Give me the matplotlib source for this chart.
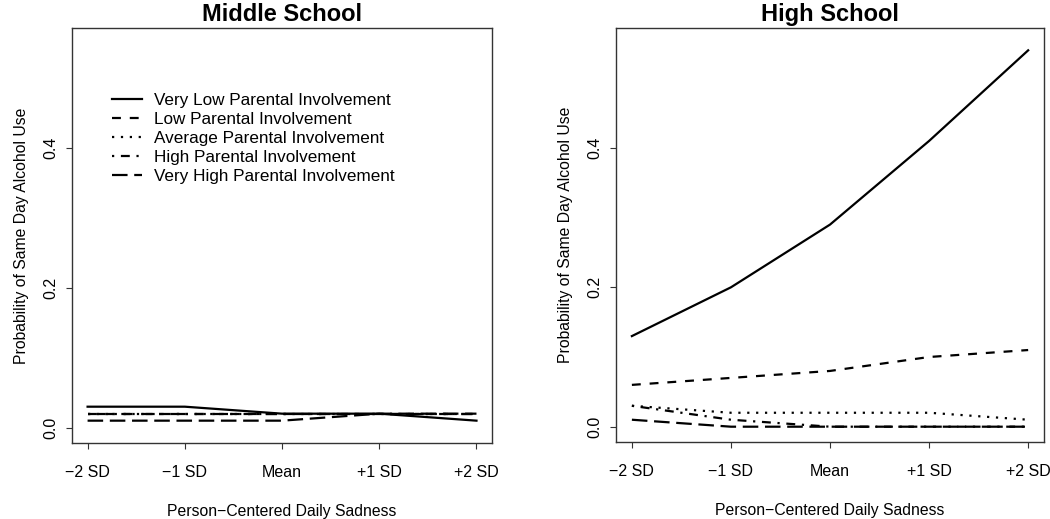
import numpy as np
import matplotlib
matplotlib.use("Agg")
import matplotlib.pyplot as plt

plt.rcParams['font.family'] = ['Liberation Sans', 'DejaVu Sans']

x_labels = ["\u22122 SD", "\u22121 SD", "Mean", "+1 SD", "+2 SD"]
groups = ["Very Low Parental Involvement", "Low Parental Involvement",
          "Average Parental Involvement", "High Parental Involvement",
          "Very High Parental Involvement"]

# Middle school predicted probabilities
ms_very_low = [0.03, 0.03, 0.02, 0.02, 0.01]
ms_low = [0.02, 0.02, 0.02, 0.02, 0.02]
ms_average = [0.02, 0.02, 0.02, 0.02, 0.02]
ms_high = [0.02, 0.02, 0.02, 0.02, 0.02]
ms_very_high = [0.01, 0.01, 0.01, 0.02, 0.02]

# High school predicted probabilities
hs_very_low = [0.13, 0.20, 0.29, 0.41, 0.54]
hs_low = [0.06, 0.07, 0.08, 0.10, 0.11]
hs_average = [0.03, 0.02, 0.02, 0.02, 0.01]
hs_high = [0.03, 0.01, 0.00, 0.00, 0.00]
hs_very_high = [0.01, 0.00, 0.00, 0.00, 0.00]

styles = ['-', (0, (4, 4)), (0, (1, 3)), (0, (1, 3, 4, 3)), (0, (7, 3))]

fig = plt.figure(figsize=(10.5, 5.19), dpi=100)
ax1 = fig.add_axes([0.0686, 0.1464, 0.4, 0.7996])
ax2 = fig.add_axes([0.5867, 0.1483, 0.4076, 0.7977])

x = np.arange(1, 6)
panels = [(ax1, "Middle School", [ms_very_low, ms_low, ms_average, ms_high, ms_very_high]),
          (ax2, "High School", [hs_very_low, hs_low, hs_average, hs_high, hs_very_high])]

for ax, title, series in panels:
    for vals, ls, name in zip(series, styles, groups):
        ax.plot(x, vals, color='black', lw=1.6, linestyle=ls, label=name)
    ax.set_xlim(1 - 0.16, 5 + 0.16)
    ax.set_ylim(-0.022, 0.572)
    ax.set_xticks(x)
    ax.set_xticklabels(x_labels, fontsize=11.5)
    ax.set_yticks([0.0, 0.2, 0.4])
    ax.set_yticklabels(["0.0", "0.2", "0.4"], fontsize=11.5, rotation=90, va='center')
    ax.tick_params(axis='both', length=4, width=0.8, color='#333333')
    ax.tick_params(axis='x', pad=12)
    ax.tick_params(axis='y', pad=6)
    for sp in ax.spines.values():
        sp.set_linewidth(1.0)
        sp.set_color('#333333')
    ax.set_title(title, fontsize=17, fontweight='bold', pad=5)
    ax.set_xlabel("Person\u2212Centered Daily Sadness", fontsize=11.3, labelpad=17)
    ax.set_ylabel("Probability of Same Day Alcohol Use", fontsize=11.3, labelpad=10)

ax1.legend(loc='upper left', bbox_to_anchor=(0.078, 0.86), frameon=False,
           fontsize=12.3, handlelength=1.75, labelspacing=0.24, handletextpad=0.75,
           borderaxespad=0)

plt.savefig("out.png", dpi=100)
